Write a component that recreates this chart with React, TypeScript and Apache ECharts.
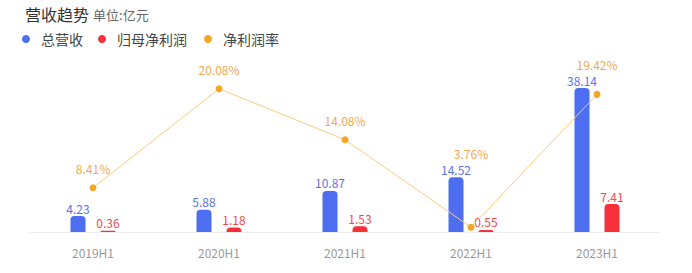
import React, { useEffect, useRef } from "react";
import * as echarts from "echarts";

const categories = ["2019H1", "2020H1", "2021H1", "2022H1", "2023H1"];
const revenue = [4.23, 5.88, 10.87, 14.52, 38.14];
const netProfit = [0.36, 1.18, 1.53, 0.55, 7.41];
const netMargin = [8.41, 20.08, 14.08, 3.76, 19.42];
const legendNames = ["总营收", "归母净利润", "净利润率"];

const marginLabelShiftY = [0, 0, 0, -54, -10];
const legendLefts = [22, 98, 204];

const FONT = "'Noto Sans CJK SC', 'Noto Sans', sans-serif";

export default function App() {
  const ref = useRef<HTMLDivElement>(null);
  useEffect(() => {
    if (!ref.current) return;
    const chart = echarts.init(ref.current, undefined, { renderer: "svg" });
    chart.setOption({
      animation: false,
      textStyle: { fontFamily: FONT },
      title: {
        left: 25,
        top: 5,
        padding: 0,
        text: "{a|营收趋势} {b|单位:亿元}",
        textStyle: {
          fontWeight: "normal",
          rich: {
            a: { fontSize: 16, color: "#333", fontFamily: FONT, fontWeight: "normal" },
            b: { fontSize: 13, color: "#666", fontFamily: FONT, fontWeight: "normal" },
          },
        },
      },
      legend: legendNames.map((n, i) => ({
        left: legendLefts[i],
        top: 32,
        padding: 0,
        icon: "circle",
        itemWidth: 20,
        itemHeight: 8,
        textStyle: { fontSize: 14, color: "#444", fontFamily: FONT },
        data: [n],
      })),
      grid: { left: 30, right: 32, top: 81, bottom: 41 },
      xAxis: {
        type: "category",
        data: categories,
        axisTick: { show: false },
        axisLine: { lineStyle: { color: "#eeeeee" } },
        axisLabel: { color: "#999", fontSize: 12, margin: 14, fontFamily: FONT },
      },
      yAxis: [
        { type: "value", min: 0, max: 40, show: false, splitLine: { show: false } },
        { type: "value", min: 3.2, max: 21, show: false, splitLine: { show: false } },
      ],
      series: [
        {
          name: legendNames[0],
          type: "bar",
          data: revenue,
          barWidth: 15,
          barGap: "100%",
          itemStyle: { color: "#4d6ef0", borderRadius: [4, 4, 0, 0] },
          label: {
            show: true,
            position: "top",
            distance: 2,
            color: "#5b73e6",
            fontSize: 12,
            fontFamily: FONT,
          },
        },
        {
          name: legendNames[1],
          type: "bar",
          data: netProfit,
          barWidth: 15,
          itemStyle: { color: "#f7303a", borderRadius: [4, 4, 0, 0] },
          label: {
            show: true,
            position: "top",
            distance: 2,
            color: "#f04a4f",
            fontSize: 12,
            fontFamily: FONT,
          },
        },
        {
          name: legendNames[2],
          type: "line",
          yAxisIndex: 1,
          data: netMargin.map((v, i) => ({
            value: v,
            label: { offset: [0, marginLabelShiftY[i]] },
          })),
          symbol: "circle",
          symbolSize: 7,
          itemStyle: { color: "#f5a623" },
          lineStyle: { width: 1, color: "#f9cb7a" },
          label: {
            show: true,
            position: "top",
            distance: 10,
            color: "#f2a94e",
            fontSize: 12,
            fontFamily: FONT,
            formatter: "{c}%",
          },
          z: 3,
        },
      ],
    });
    return () => chart.dispose();
  }, []);
  return (
    <div
      ref={ref}
      style={{ position: "fixed", left: 0, top: 0, width: 692, height: 273, background: "#fff" }}
    />
  );
}
